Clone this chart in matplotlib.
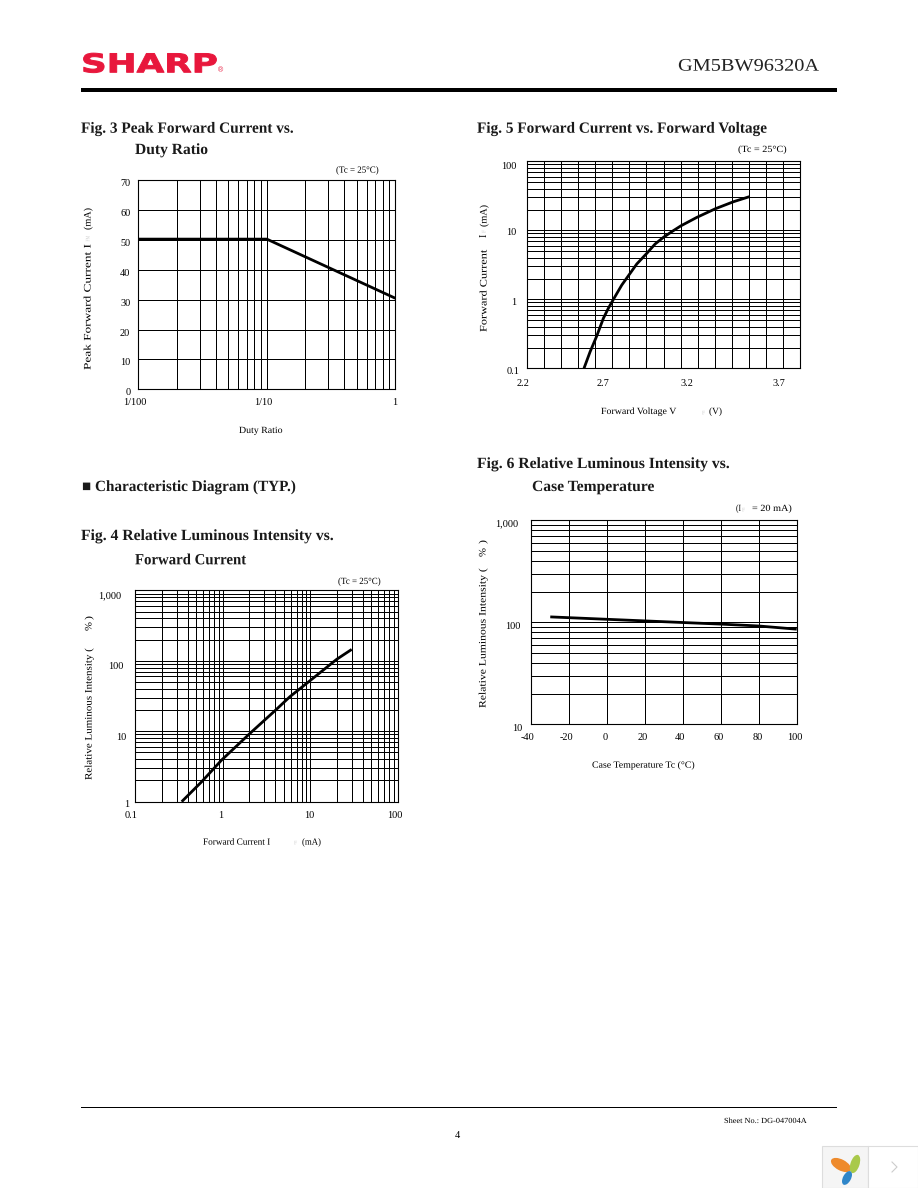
import matplotlib
matplotlib.use("Agg")
import matplotlib.pyplot as plt
import matplotlib.patheffects as pe
from matplotlib.patches import Rectangle, Ellipse
from matplotlib.ticker import NullFormatter, LogLocator, FixedLocator
from matplotlib.transforms import Affine2D

W, H = 918, 1188

# ---------- data ----------
fig3_duty = [0.01, 0.1, 1.0]
fig3_current = [50.3, 50.3, 30.5]
fig3_xticks = [0.01, 0.1, 1]
fig3_xlabels = ["1/100", "1/10", "1"]
fig3_yticks = [0, 10, 20, 30, 40, 50, 60, 70]

fig4_current = [0.339, 0.574, 0.97, 2.05, 3.96, 5.87, 9.95, 20.1, 29.8]
fig4_intensity = [1.0, 1.92, 3.9, 9.34, 19.6, 31, 52.2, 105, 145]
fig4_xticks = [0.1, 1, 10, 100]
fig4_xlabels = ["0.1", "1", "10", "100"]
fig4_yticks = [1, 10, 100, 1000]
fig4_ylabels = ["1", "10", "100", "1,000"]

fig5_voltage = [2.533, 2.569, 2.608, 2.647, 2.676, 2.706, 2.755, 2.804, 2.843, 2.902,
                2.951, 3.0, 3.049, 3.102, 3.196, 3.306, 3.412, 3.506]
fig5_current = [0.1, 0.174, 0.294, 0.531, 0.741, 1.0, 1.61, 2.38, 3.25, 4.64,
                6.34, 7.92, 9.57, 11.6, 15.4, 20.6, 26.0, 30.8]
fig5_xticks = [2.2, 2.7, 3.2, 3.7]
fig5_xgrid = [2.3, 2.4, 2.5, 2.6, 2.7, 2.8, 2.9, 3.0, 3.1, 3.2, 3.3, 3.4, 3.5, 3.6, 3.7]
fig5_yticks = [0.1, 1, 10, 100]
fig5_ylabels = ["0.1", "1", "10", "100"]

fig6_temp = [-30, 0, 40, 60, 80, 100]
fig6_intensity = [113, 107, 99.5, 96, 92, 85.6]
fig6_xticks = [-40, -20, 0, 20, 40, 60, 80, 100]
fig6_yticks = [10, 100, 1000]
fig6_ylabels = ["10", "100", "1,000"]

SERIF = "Liberation Serif"
plt.rcParams["font.family"] = SERIF
fig = plt.figure(figsize=(W / 100, H / 100), dpi=100, facecolor="white")
renderer = fig.canvas.get_renderer()


# ---------- helpers ----------
class Stretch(pe.AbstractPathEffect):
    """Stretch a text along its reading direction so it spans a measured extent."""
    def __init__(self, scale, cx, cy, vertical=False, stroke=0.0):
        super().__init__()
        self.t = Affine2D().translate(-cx, -cy)
        self.t = self.t.scale(1, scale) if vertical else self.t.scale(scale, 1)
        self.t = self.t.translate(cx, cy)
        self.stroke = stroke

    def draw_path(self, r, gc, tpath, affine, rgbFace=None):
        if self.stroke:
            gc.set_linewidth(self.stroke)
            gc.set_foreground(rgbFace)
        r.draw_path(gc, tpath, affine + self.t, rgbFace)


def span(s, a, b, y, size=7.2, weight="normal", color="black", va="center"):
    """Horizontal text from pixel a to pixel b at pixel height y."""
    t = fig.text(a / W, 1 - y / H, s, fontsize=size, fontweight=weight, color=color,
                 ha="left", va=va)
    ext = t.get_window_extent(renderer)
    t.set_path_effects([Stretch((b - a) / ext.width, a, H - y)])
    return t


def vspan(s, bottom, top, x, size=7.2, color="black"):
    """Rotated text reading upward from pixel bottom to pixel top at pixel column x."""
    t = fig.text(x / W, 1 - bottom / H, s, fontsize=size, color=color, rotation=90,
                 ha="center", va="bottom")
    ext = t.get_window_extent(renderer)
    t.set_path_effects([Stretch((bottom - top) / ext.height, x, H - bottom, vertical=True)])
    return t


def make_axes(left, top, right, bottom):
    ax = fig.add_axes([left / W, 1 - bottom / H, (right - left) / W, (bottom - top) / H])
    for s in ax.spines.values():
        s.set_linewidth(0.8)
        s.set_color("black")
    ax.set_axisbelow(True)
    return ax


def style(ax, xpad, ypad, xoff, yoff):
    ax.grid(True, which="both", color="black", linewidth=0.72)
    ax.tick_params(which="both", length=0)
    ax.tick_params(axis="x", pad=xpad * 0.72, labelsize=7.4)
    ax.tick_params(axis="y", pad=ypad * 0.72, labelsize=7.4)
    ax.xaxis.set_minor_formatter(NullFormatter())
    ax.yaxis.set_minor_formatter(NullFormatter())
    for tick, dx in zip(ax.get_xticklabels(), xoff):
        tick.set_transform(tick.get_transform() + Affine2D().translate(dx, 0))
    for tick, (dx, dy) in zip(ax.get_yticklabels(), yoff):
        tick.set_transform(tick.get_transform() + Affine2D().translate(dx, dy))


def logminor(axis):
    axis.set_minor_locator(LogLocator(base=10, subs=range(2, 10), numticks=20))


def curve(ax, x, y):
    ax.plot(x, y, color="black", lw=2.0, solid_capstyle="butt", solid_joinstyle="round")


# ---------- page furniture ----------
page = fig.add_axes([0, 0, 1, 1], zorder=-1)
page.set_xlim(0, W)
page.set_ylim(H, 0)
page.axis("off")
page.add_patch(Rectangle((81, 88), 756, 4, color="black", lw=0))
page.add_patch(Rectangle((81, 1106.8), 756, 1.1, color="black", lw=0))
page.add_patch(Rectangle((822, 1146), 46, 42, facecolor="#f5f5f5", edgecolor="#dddddd", lw=0.8))
page.add_patch(Rectangle((868, 1146), 50, 42, facecolor="white", edgecolor="#dddddd", lw=0.8))
page.add_patch(Ellipse((841, 1165), 22, 11, angle=28, color="#ee8a2c", lw=0))
page.add_patch(Ellipse((855, 1164), 19, 9, angle=-72, color="#a9c94a", lw=0))
page.add_patch(Ellipse((847, 1178), 15, 8, angle=-62, color="#2f86c9", lw=0))
page.plot([892, 897, 892], [1162, 1167, 1172], color="#cccccc", lw=0.8)

logo = fig.text(81 / W, 1 - 72.3 / H, "SHARP", fontsize=18.6, fontweight="bold",
                family="DejaVu Sans", color="#e8173c", ha="left", va="baseline")
logo.set_path_effects([Stretch(137 / logo.get_window_extent(renderer).width, 81, H - 72.3,
                               stroke=0.7)])
fig.text(220.5 / W, 1 - 71 / H, "®", fontsize=5, color="#e8173c", ha="center", va="center",
         family="Liberation Sans")
span("GM5BW96320A", 678, 819, 70.7, size=12.8, va="baseline", color="#222222")
span("Sheet No.: DG-047004A", 724, 806, 1121, size=5.6)
fig.text(457 / W, 1 - 1135 / H, "4", fontsize=7.4, ha="center", va="center")

# ---------- titles ----------
for s, a, b, y in [
    ("Fig. 3 Peak Forward Current vs.", 81, 293, 132.7),
    ("Duty Ratio", 135, 208, 154),
    ("Fig. 5 Forward Current vs. Forward Voltage", 477, 766, 132.7),
    ("■ Characteristic Diagram (TYP.)", 82, 295, 491),
    ("Fig. 4 Relative Luminous Intensity vs.", 81, 333, 540),
    ("Forward Current", 135, 246, 564.3),
    ("Fig. 6 Relative Luminous Intensity vs.", 477, 729, 468),
    ("Case Temperature", 532, 654, 491),
]:
    t = span(s, a, b, y, size=11.2, weight="bold", va="baseline", color="#1a1a1a")

# ---------- Fig. 3 ----------
ax = make_axes(138.3, 180.3, 395.3, 389.3)
ax.set_xscale("log")
ax.set_xlim(0.01, 1)
ax.set_ylim(0, 70)
logminor(ax.xaxis)
ax.set_xticks(fig3_xticks, fig3_xlabels)
ax.set_yticks(fig3_yticks)
style(ax, 9, 8, [-3, -4, -1], [(0, -2.5)] * 8)
ax.plot(fig3_duty, fig3_current, color="black", lw=2.0, solid_capstyle="butt", clip_on=False)
span("(Tc = 25°C)", 336, 379, 170.7, size=6.8)
span("Duty Ratio", 239, 283, 431, size=6.8)
vspan("Peak Forward Current I", 370, 243, 88)
vspan("FM", 241.5, 236, 88, size=4, color="#cccccc")
vspan("(mA)", 230, 208, 88)

# ---------- Fig. 5 ----------
ax = make_axes(527.3, 161.3, 799.7, 368.3)
ax.set_yscale("log")
ax.set_xlim(2.2, 3.8)
ax.set_ylim(0.1, 100)
logminor(ax.yaxis)
ax.xaxis.set_minor_locator(FixedLocator(fig5_xgrid))
ax.set_xticks(fig5_xticks, [str(v) for v in fig5_xticks])
ax.set_yticks(fig5_yticks, fig5_ylabels)
style(ax, 11, 11, [-4.7, -9.7, -10.7, -4.3], [(3, -2), (0, -2), (0, -0.7), (0, -4)])
curve(ax, fig5_voltage, fig5_current)
span("(Tc = 25°C)", 738, 787, 150, size=6.8)
span("Forward Voltage V", 601, 677, 412, size=6.8)
span("F", 702, 705, 413, size=4, color="#cccccc")
span("(V)", 709, 722, 412, size=6.8)
vspan("Forward Current", 332, 249, 484)
fig.text(484 / W, 1 - 235.5 / H, "I", fontsize=7.2, rotation=90, ha="center", va="center")
vspan("F", 233, 230, 484, size=4, color="#cccccc")
vspan("(mA)", 227, 205, 484)

# ---------- Fig. 4 ----------
ax = make_axes(135.3, 590.3, 397.7, 801.7)
ax.set_xscale("log")
ax.set_yscale("log")
ax.set_xlim(0.1, 100)
ax.set_ylim(1, 1000)
logminor(ax.xaxis)
logminor(ax.yaxis)
ax.set_xticks(fig4_xticks, fig4_xlabels)
ax.set_yticks(fig4_yticks, fig4_ylabels)
style(ax, 9, 14, [-4, -2, -1, -2.7], [(7.6, -1.7), (4.6, -5), (2.3, -4.5), (0, -4)])
curve(ax, fig4_current, fig4_intensity)
span("(Tc = 25°C)", 338, 381, 582, size=6.8)
span("Forward Current I", 203, 271, 842.7, size=6.8)
span("F", 294, 297, 843, size=4, color="#cccccc")
span("(mA)", 302, 321, 842.7, size=6.8)
vspan("Relative Luminous Intensity (", 780, 647, 89)
vspan("%", 631, 622, 89)
vspan(")", 620, 616, 89)

# ---------- Fig. 6 ----------
ax = make_axes(531.3, 520.3, 796.7, 724.3)
ax.set_yscale("log")
ax.set_xlim(-40, 100)
ax.set_ylim(10, 1000)
logminor(ax.yaxis)
ax.set_xticks(fig6_xticks, [str(v) for v in fig6_xticks])
ax.set_yticks(fig6_yticks, fig6_ylabels)
style(ax, 9, 13.3, [-3.7, -2.7, -1.5, -2.7, -2.7, -2.3, -1.3, -1.7],
      [(4.3, -3), (2.1, -3), (0, -2)])
curve(ax, fig6_temp, fig6_intensity)
span("(I", 736, 741, 509, size=6.8)
span("F", 742, 745, 510, size=4, color="#cccccc")
span("= 20 mA)", 752, 792, 509, size=6.8)
span("Case Temperature Tc (°C)", 592, 696, 765.7, size=6.8)
vspan("Relative Luminous Intensity (", 708, 567, 483)
vspan("%", 557, 548, 483)
vspan(")", 544, 540, 483)

fig.savefig("out.png", dpi=100)
